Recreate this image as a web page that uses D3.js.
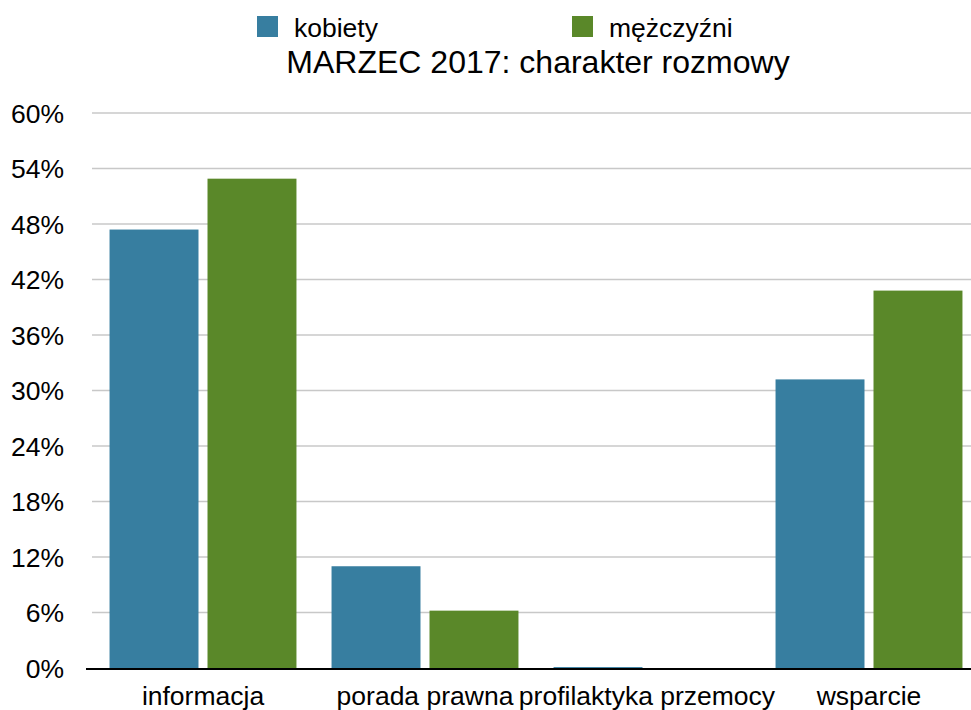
<!DOCTYPE html>
<html><head><meta charset="utf-8">
<script src="https://cdn.jsdelivr.net/npm/d3@7"></script>
<style>body{margin:0;background:#fff}svg{display:block}text{font-family:"Liberation Sans",Arial,Helvetica,sans-serif;fill:#000}</style>
</head><body>
<svg id="c" width="971" height="710"></svg>
<script>
const categories = ["informacja", "porada prawna", "profilaktyka przemocy", "wsparcie"];
const seriesNames = ["kobiety", "mężczyźni"];
const kobiety = [47.4, 11.0, 0.1, 31.2];
const mezczyzni = [52.9, 6.2, 0, 40.8];
const yTicks = [0, 6, 12, 18, 24, 30, 36, 42, 48, 54, 60];
const colors = ["#377ea0", "#5a8829"];
const title = "MARZEC 2017: charakter rozmowy";

const svg = d3.select("#c");
const x0 = d3.scaleBand().domain(categories).range([92, 980]).paddingInner(0.158).paddingOuter(0.079);
const x1 = d3.scaleBand().domain(seriesNames).range([0, x0.bandwidth()]).paddingInner(0.092);
const y = d3.scaleLinear().domain([0, 60]).range([668, 113]);

// gridlines
svg.append("g").selectAll("line").data(yTicks.filter(d => d > 0)).join("line")
  .attr("x1", 92).attr("x2", 971).attr("y1", d => y(d)).attr("y2", d => y(d))
  .attr("stroke", "#c8c8c8").attr("stroke-width", 1.5);

// y labels
svg.append("g").selectAll("text").data(yTicks).join("text")
  .attr("x", 64).attr("y", d => y(d)).attr("dy", "0.36em").attr("text-anchor", "end")
  .attr("font-size", 26.5).text(d => d + "%");

// bars
const data = categories.map((c, i) => ({c, vals: [kobiety[i], mezczyzni[i]]}));
const g = svg.append("g").selectAll("g").data(data).join("g")
  .attr("transform", d => `translate(${x0(d.c)},0)`);
g.selectAll("rect").data(d => d.vals.map((v, j) => ({s: seriesNames[j], v, j}))).join("rect")
  .attr("x", d => x1(d.s)).attr("width", x1.bandwidth())
  .attr("y", d => y(d.v)).attr("height", d => y(0) - y(d.v))
  .attr("fill", d => colors[d.j]);

// baseline
svg.append("line").attr("x1", 86).attr("x2", 971).attr("y1", y(0) + 1).attr("y2", y(0) + 1)
  .attr("stroke", "#000").attr("stroke-width", 2);

// x labels
svg.append("g").selectAll("text").data(categories).join("text")
  .attr("x", d => x0(d) + x0.bandwidth() / 2).attr("y", 705).attr("text-anchor", "middle")
  .attr("font-size", 26.5).text(d => d);

// legend
const legX = [257, 572];
seriesNames.forEach((s, i) => {
  svg.append("rect").attr("x", legX[i]).attr("y", 16).attr("width", 21).attr("height", 21).attr("fill", colors[i]);
  svg.append("text").attr("x", legX[i] + 37).attr("y", 37).attr("font-size", 26.5).text(s);
});

// title
svg.append("text").attr("x", 538).attr("y", 73).attr("text-anchor", "middle").attr("font-size", 32).text(title);
</script>
</body></html>
